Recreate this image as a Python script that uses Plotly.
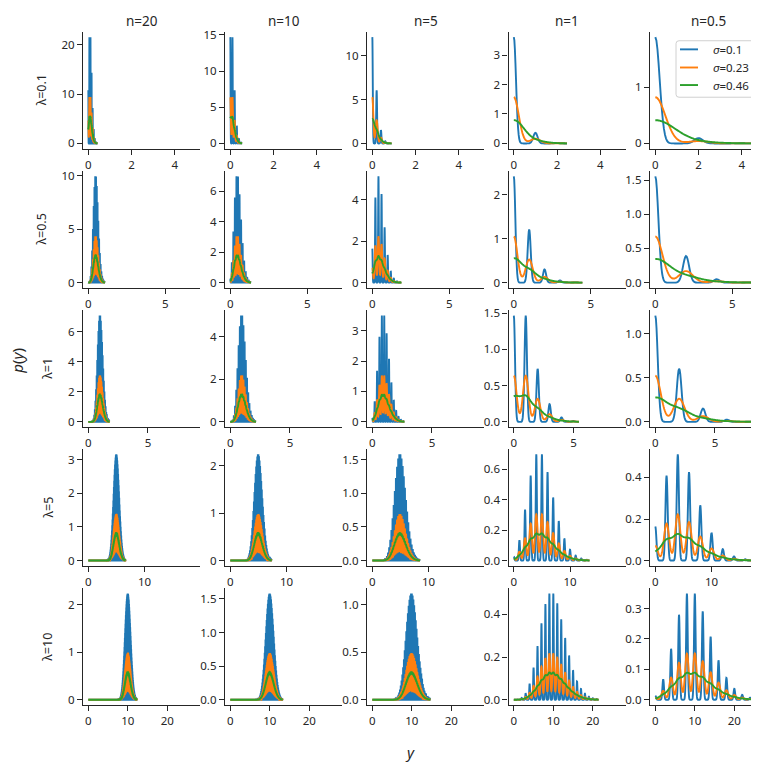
import math
import numpy as np
import plotly.graph_objects as go

# ---- data (parameters) ----
n_values = [20, 10, 5, 1, 0.5]
lam_values = [0.1, 0.5, 1, 5, 10]
sigma_values = [0.1, 0.23, 0.46]
sigma_labels = ["0.1", "0.23", "0.46"]
col_titles = ["n=20", "n=10", "n=5", "n=1", "n=0.5"]
row_titles = ["λ=0.1", "λ=0.5", "λ=1", "λ=5", "λ=10"]
colors = ["#1f77b4", "#ff7f0e", "#2ca02c"]

# ---- layout geometry (pixels) ----
W, H = 759, 763
col_left = [75, 217, 359, 500.5, 642]
ax_w = 117
row_top = [19, 159.5, 300, 440, 580.5]
ax_h = 118
FONT = "Noto Sans"
INK = "#262626"


def pois_logpmf(mu, k):
    return k * math.log(mu) - mu - math.lgamma(k + 1)


def pois_ppf(mu, q):
    k, c = 0, 0.0
    while True:
        c += math.exp(pois_logpmf(mu, k))
        if c >= q:
            return k
        k += 1


def mixture(x, mu, n, sigma):
    kmax = pois_ppf(mu, 1 - 1e-10) + 5
    ks = np.arange(kmax + 1)
    logp = np.array([pois_logpmf(mu, int(k)) for k in ks])
    p = np.exp(logp)
    keep = p > 1e-14
    ks, p = ks[keep], p[keep]
    s = sigma / n
    out = np.zeros_like(x)
    for k, pk in zip(ks, p):
        out += pk * np.exp(-0.5 * ((x - k / n) / s) ** 2)
    return out / (s * math.sqrt(2 * math.pi))


def nice_ticks(lo, hi, nbins):
    raw = (hi - lo) / nbins
    e = math.floor(math.log10(raw))
    step = None
    for m in [1, 2, 2.5, 5, 10]:
        st = m * 10 ** e
        if st >= raw * (1 - 1e-9):
            step = st
            break
    start = math.ceil(lo / step - 1e-9) * step
    vals = []
    v = start
    while v <= hi + 1e-9:
        vals.append(round(v, 10) + 0.0)
        v += step
    d = 0
    for d in range(0, 6):
        if abs(round(step, d) - step) < 1e-9:
            break
    text = [f"{val:.{d}f}" for val in vals]
    return vals, text


fig = go.Figure()
layout = {}

for r, lam in enumerate(lam_values):
    panel = []
    for c, n in enumerate(n_values):
        mu = lam * n
        xmax = (pois_ppf(mu, 0.999) + max(sigma_values)) / n
        npts = int(math.ceil(xmax / (min(sigma_values) / n / 4))) + 1
        x = np.linspace(0, xmax, npts)
        ys = [mixture(x, mu, n, s) for s in sigma_values]
        panel.append((x, ys, xmax))
    xmax_row = max(p[2] for p in panel)
    xr = [-0.05 * xmax_row, 1.05 * xmax_row]
    xt_vals, xt_text = nice_ticks(xr[0], xr[1], 3)
    for c, n in enumerate(n_values):
        i = r * 5 + c + 1
        x, ys, _ = panel[c]
        xa = "x" if i == 1 else f"x{i}"
        ya = "y" if i == 1 else f"y{i}"
        for j, yv in enumerate(ys):
            fig.add_trace(go.Scatter(
                x=x.astype(np.float32), y=yv.astype(np.float32),
                mode="lines", xaxis=xa, yaxis=ya,
                line=dict(color=colors[j], width=1.9, simplify=False),
                showlegend=False, hoverinfo="skip"))
        ymax = max(float(yv.max()) for yv in ys)
        yr = [-0.05 * ymax, 1.05 * ymax]
        yt_vals, yt_text = nice_ticks(yr[0], yr[1], 4)
        x0 = col_left[c] / W
        x1 = (col_left[c] + ax_w) / W
        y1 = 1 - row_top[r] / H
        y0 = 1 - (row_top[r] + ax_h) / H
        common = dict(showline=True, linecolor=INK, linewidth=1.3,
                      ticks="outside", ticklen=5, tickwidth=1.3, tickcolor=INK,
                      showgrid=False, zeroline=False,
                      tickfont=dict(family=FONT, size=11.5, color=INK))
        layout["xaxis" if i == 1 else f"xaxis{i}"] = dict(
            domain=[x0, x1], anchor=ya, range=xr,
            tickmode="array", tickvals=xt_vals, ticktext=xt_text, **common)
        layout["yaxis" if i == 1 else f"yaxis{i}"] = dict(
            domain=[y0, y1], anchor=xa, range=yr,
            tickmode="array", tickvals=yt_vals, ticktext=yt_text, **common)

annotations = []
for c, t in enumerate(col_titles):
    annotations.append(dict(text=t, xref="paper", yref="paper",
                            x=(col_left[c] + ax_w / 2) / W, y=1 - 8 / H,
                            xanchor="center", yanchor="middle", showarrow=False,
                            font=dict(family=FONT, size=13.5, color=INK)))
row_label_x = [33, 33, 40, 40, 40]
for r, t in enumerate(row_titles):
    annotations.append(dict(text=t, xref="paper", yref="paper",
                            x=row_label_x[r] / W, y=1 - (row_top[r] + ax_h / 2) / H,
                            xanchor="center", yanchor="middle", showarrow=False,
                            textangle=-90,
                            font=dict(family=FONT, size=12.5, color=INK)))
annotations.append(dict(text="<i>p</i>(<i>y</i>)", xref="paper", yref="paper",
                        x=9 / W, y=1 - 351 / H, xanchor="center", yanchor="middle",
                        showarrow=False, textangle=-90,
                        font=dict(family=FONT, size=15, color=INK)))
annotations.append(dict(text="<i>y</i> ", xref="paper", yref="paper",
                        x=404 / W, y=1 - 746 / H, xanchor="center", yanchor="middle",
                        showarrow=False,
                        font=dict(family=FONT, size=15, color=INK)))

# legend (drawn manually to match the compact style)
shapes = []
lx0, lx1, ly0, ly1, rad = 668, 757, 28, 85, 3
px = lambda v: v / W
py = lambda v: 1 - v / H
path = (f"M {px(lx0+rad)},{py(ly0)} L {px(lx1-rad)},{py(ly0)} "
        f"Q {px(lx1)},{py(ly0)} {px(lx1)},{py(ly0+rad)} "
        f"L {px(lx1)},{py(ly1-rad)} Q {px(lx1)},{py(ly1)} {px(lx1-rad)},{py(ly1)} "
        f"L {px(lx0+rad)},{py(ly1)} Q {px(lx0)},{py(ly1)} {px(lx0)},{py(ly1-rad)} "
        f"L {px(lx0)},{py(ly0+rad)} Q {px(lx0)},{py(ly0)} {px(lx0+rad)},{py(ly0)} Z")
shapes.append(dict(type="path", path=path, xref="paper", yref="paper",
                   line=dict(color="#d0d0d0", width=1),
                   fillcolor="rgba(255,255,255,0.8)", layer="above"))
leg_y = [36.7, 55, 72.7]
for j, lab in enumerate(sigma_labels):
    shapes.append(dict(type="line", xref="paper", yref="paper",
                       x0=px(672), x1=px(690), y0=py(leg_y[j]), y1=py(leg_y[j]),
                       line=dict(color=colors[j], width=1.9), layer="above"))
    annotations.append(dict(text=f"<i>σ</i>={lab}", xref="paper", yref="paper",
                            x=px(703), y=py(leg_y[j]), xanchor="left", yanchor="middle",
                            showarrow=False,
                            font=dict(family=FONT, size=11.5, color=INK)))

fig.update_layout(**layout)
fig.update_layout(width=W, height=H, margin=dict(l=0, r=0, t=0, b=0),
                  paper_bgcolor="white", plot_bgcolor="white",
                  annotations=annotations, shapes=shapes, showlegend=False,
                  font=dict(family=FONT, color=INK))
fig.write_html("out.html")
